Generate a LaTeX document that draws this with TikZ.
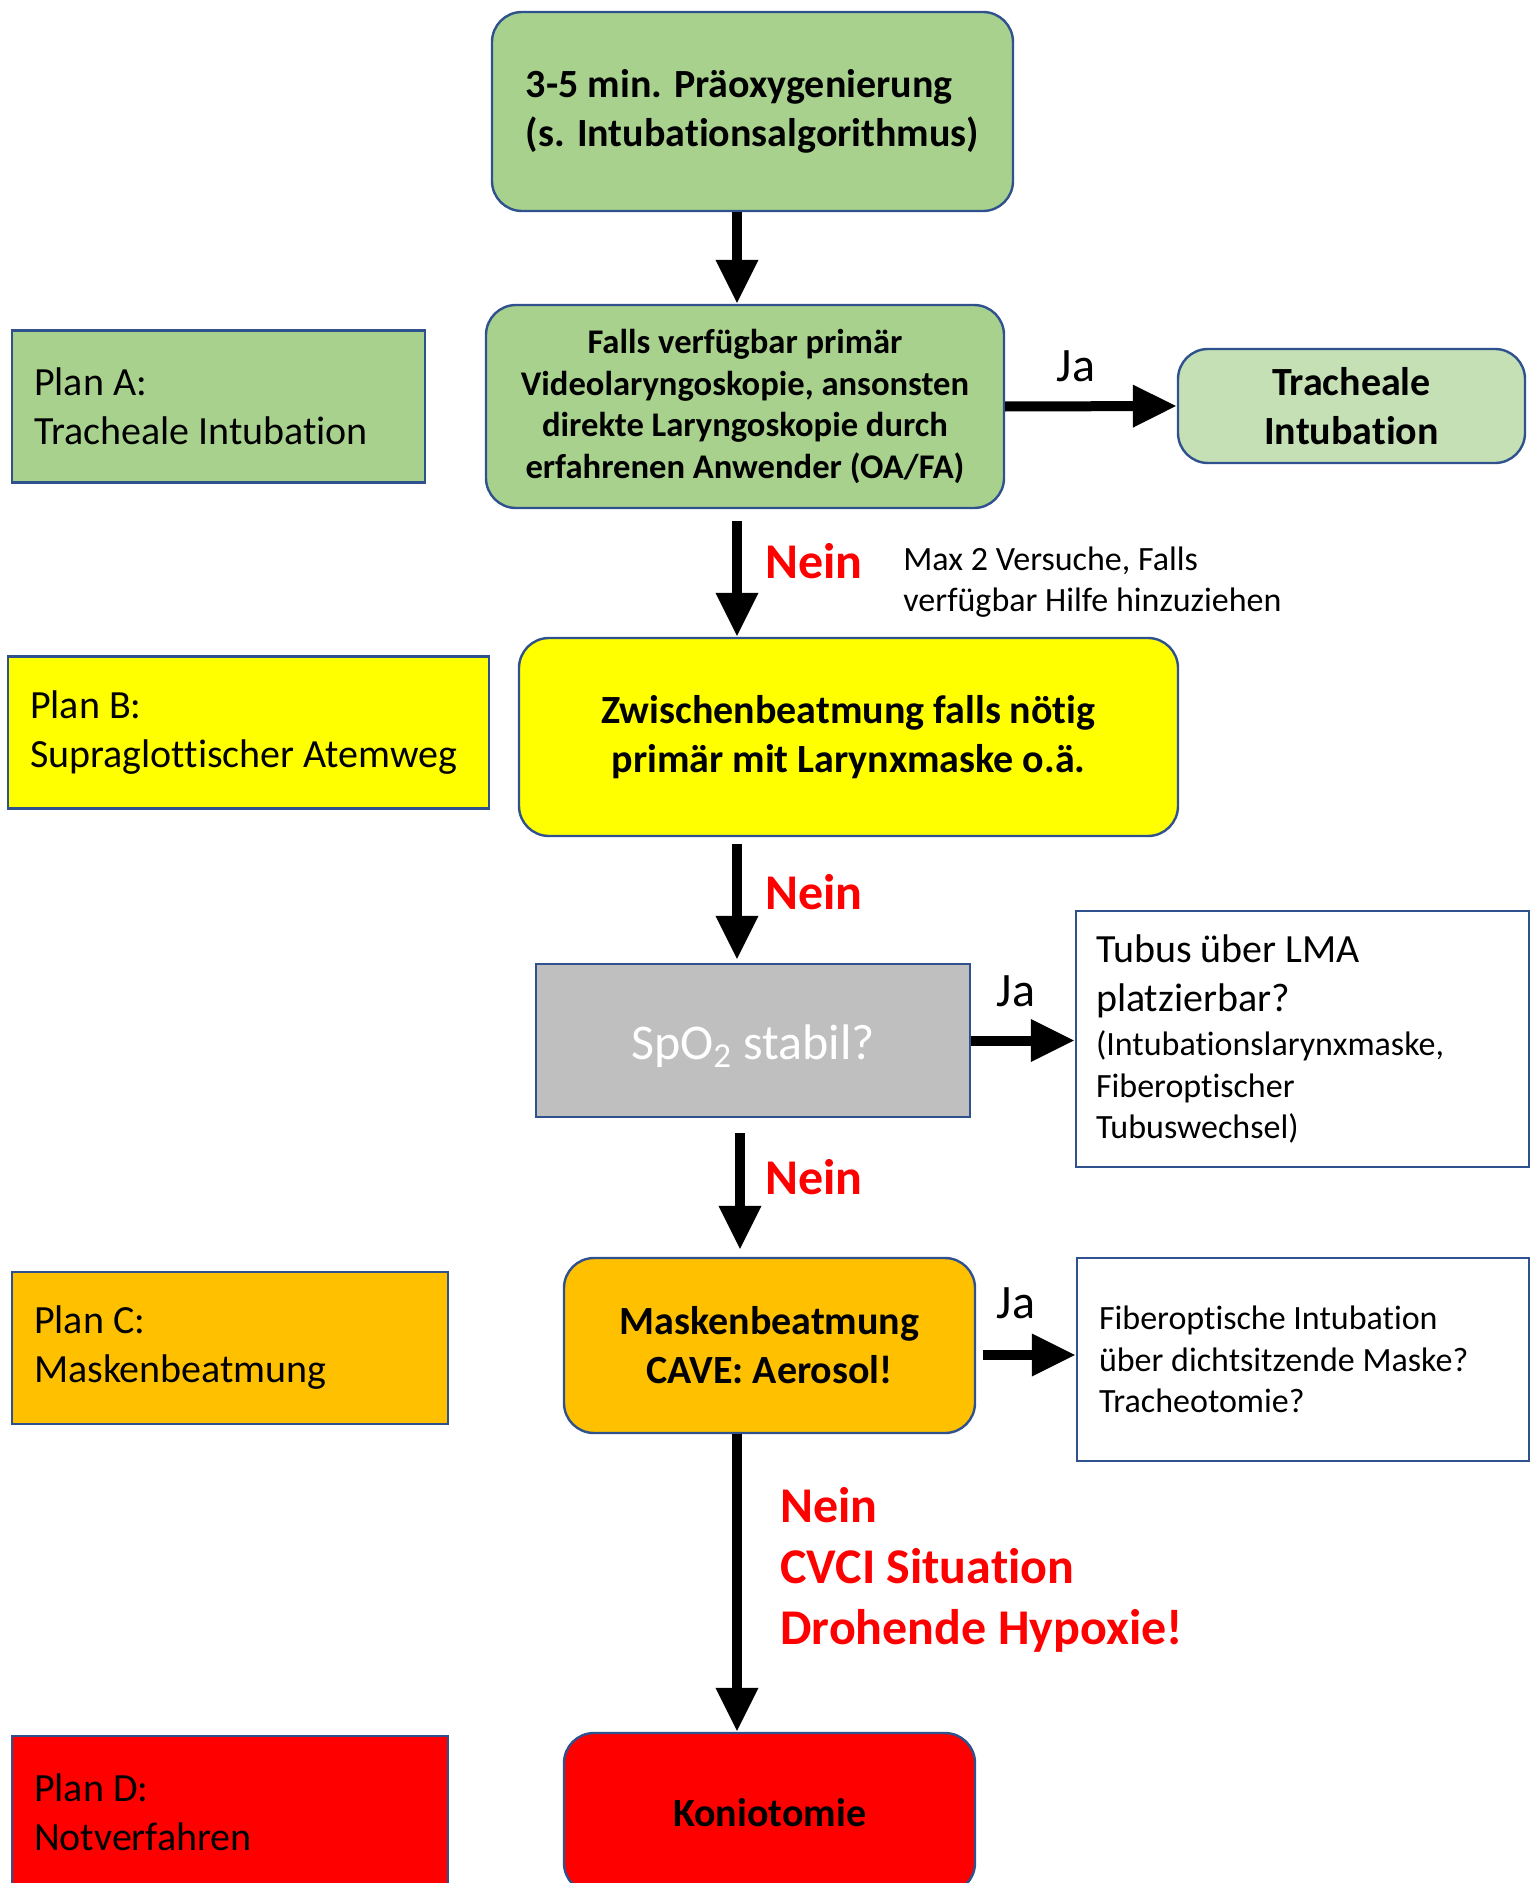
\documentclass[tikz,border=0pt]{standalone}
\usepackage{fontspec}
\setmainfont{Carlito}[Ligatures=NoCommon]
\usetikzlibrary{arrows.meta,positioning}

\definecolor{frameblue}{HTML}{2F528F}
\definecolor{greenA}{HTML}{A9D18E}
\definecolor{greenlight}{HTML}{C5E0B4}
\definecolor{yellowB}{HTML}{FFFF00}
\definecolor{orangeC}{HTML}{FFC000}
\definecolor{redD}{HTML}{FF0000}
\definecolor{greybox}{HTML}{BFBFBF}

\newcommand{\boxfont}{\fontsize{20}{24.5}\selectfont}
\newcommand{\notefont}{\fontsize{17}{20.7}\selectfont}
\newcommand{\bigfont}{\fontsize{25}{30.5}\selectfont}

\begin{document}
\begin{tikzpicture}[
  x=0.5pt, y=-0.5pt,
  every node/.style={inner sep=0pt, font=\boxfont},
  stepbox/.style={draw=frameblue, line width=1.2pt, rounded corners=15pt, align=center, font=\boxfont\bfseries},
  planbox/.style={draw=frameblue, line width=1.2pt, align=flush left, inner xsep=11pt, minimum height=76pt},
  notebox/.style={draw=frameblue, line width=1.2pt, fill=white, align=flush left, font=\notefont},
  flow/.style={line width=5pt, -{Triangle[length=22pt,width=20pt]}},
  nein/.style={anchor=west, text=redD, font=\bigfont\bfseries, align=left},
  answer/.style={font=\fontsize{24}{29}\selectfont},
]
\clip (0,0) rectangle (1531,1883);

\node[planbox, fill=greenA, text width=184.5pt] (planA) at (218.5,406.5) {Plan A:\\Tracheale Intubation};
\node[planbox, fill=yellowB, text width=218.5pt] (planB) at (248.5,732.5) {Plan B:\\Supraglottischer Atemweg};
\node[planbox, fill=orangeC, text width=196pt] (planC) at (230,1348) {Plan C:\\Maskenbeatmung};
\node[planbox, fill=redD, text width=196pt] (planD) at (230,1812) {Plan D:\\Notverfahren};

\node[stepbox, fill=greenA, align=left, minimum width=260.5pt, minimum height=99.5pt] (praeox) at (752.5,111.5)
  {3-5 min. Präoxygenierung\\(s. Intubationsalgorithmus)};
\node[stepbox, fill=greenA, font=\fontsize{17.3}{20.8}\selectfont\bfseries, minimum width=259pt, minimum height=101.5pt] (laryngo) at (745,406.5)
  {Falls verfügbar primär\\Videolaryngoskopie, ansonsten\\direkte Laryngoskopie durch\\erfahrenen Anwender (OA/FA)};
\node[stepbox, fill=greenlight, minimum width=173.5pt, minimum height=57pt] (tracheal) at (1351.5,406)
  {Tracheale\\Intubation};
\node[stepbox, fill=yellowB, minimum width=329.5pt, minimum height=99pt] (lma) at (848.5,737)
  {Zwischenbeatmung falls nötig\\primär mit Larynxmaske o.ä.};
\node[stepbox, sharp corners, fill=greybox, text=white, font=\bigfont, minimum width=217pt, minimum height=76.5pt] (spo) at (753,1040.5)
  {\raisebox{-3pt}[\height][\depth]{SpO\textsubscript{2} stabil?}};
\node[stepbox, fill=orangeC, minimum width=205.5pt, minimum height=87.5pt] (maske) at (769.5,1345.5)
  {Maskenbeatmung\\CAVE: Aerosol!};
\node[stepbox, fill=redD, minimum width=205.5pt, minimum height=80pt] (konio) at (769.5,1813)
  {Koniotomie};

\node[notebox, inner xsep=10pt, text width=206.5pt, minimum height=128pt] (tubus) at (1302.5,1039)
  {\boxfont Tubus über LMA\\\boxfont platzierbar?\\[1.5pt]\notefont (Intubationslarynxmaske,\\Fiberoptischer\\Tubuswechsel)};
\node[notebox, inner xsep=11pt, text width=204pt, minimum height=101.5pt] (fibero) at (1303,1359.5)
  {Fiberoptische Intubation\\über dichtsitzende Maske?\\Tracheotomie?};

\node[anchor=west, align=left, font=\notefont] (versuche) at (903,582)
  {Max 2 Versuche, Falls\\verfügbar Hilfe hinzuziehen};

\coordinate (trunk) at (737,0);
\coordinate (jaC) at ([yshift=-4.75pt]maske.east);
\draw[flow] (praeox.south -| trunk) -- (laryngo.north -| trunk);
\draw[flow, shorten <=6pt] (laryngo.south -| trunk) -- (lma.north -| trunk);
\draw[flow, shorten <=3.5pt, shorten >=1.5pt] (lma.south -| trunk) -- (spo.north -| trunk);
\draw[flow, shorten <=7.5pt, shorten >=3.5pt] ([xshift=1.5pt]spo.south -| trunk) -- ([xshift=1.5pt]maske.north -| trunk);
\draw[flow] (maske.south -| trunk) -- (konio.north -| trunk);
\draw[flow] (laryngo.east) -- (tracheal.west);
\draw[flow] (spo.east) -- (spo.east -| tubus.west);
\draw[flow, shorten <=3.5pt] (jaC) -- (jaC -| fibero.west);

\node[answer] (jaA) at (1076,366) {Ja};
\node[answer] (jaB) at (1016,991) {Ja};
\node[answer] (jaC) at (1016,1303) {Ja};
\node[nein] (neinA) at (765,561) {Nein};
\node[nein] (neinB) at (765,892) {Nein};
\node[nein] (neinC) at (765,1177) {Nein};
\node[nein] (cvci) at (780,1570) {Nein\\CVCI Situation\\Drohende Hypoxie!};
\end{tikzpicture}
\end{document}
